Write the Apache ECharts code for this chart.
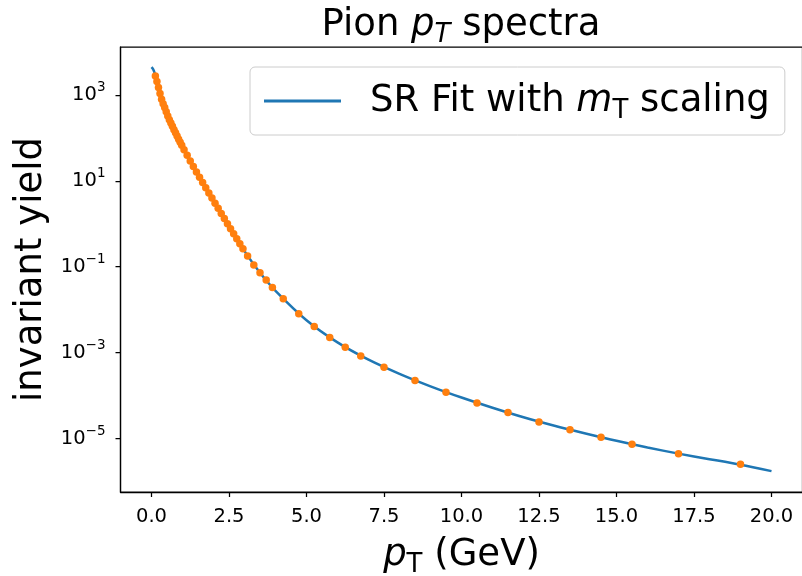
<!DOCTYPE html>
<html>
<head>
<meta charset="utf-8">
<script src="https://cdn.jsdelivr.net/npm/echarts@6/dist/echarts.min.js"></script>
<style>
html,body{margin:0;padding:0;background:#ffffff;}
#chart{width:802px;height:576px;}
</style>
</head>
<body>
<div id="chart"></div>
<script>
// ---- data ----
const pointPt = [0.125,0.175,0.225,0.275,0.325,0.375,0.425,0.475,0.525,0.575,0.625,0.675,0.725,0.775,0.825,0.875,0.925,0.975,
  1.05,1.15,1.25,1.35,1.45,1.55,1.65,1.75,1.85,1.95,2.05,2.15,2.25,2.35,2.45,2.55,2.65,2.75,2.85,2.95,
  3.1,3.3,3.5,3.7,3.9,4.25,4.75,5.25,5.75,6.25,6.75,7.5,8.5,9.5,10.5,11.5,12.5,13.5,14.5,15.5,17,19];
const pointYield = [2.75e3,2.04e3,1.48e3,1.07e3,7.94e2,6.24e2,5.06e2,4.04e2,3.20e2,2.63e2,2.20e2,1.85e2,1.55e2,1.31e2,1.10e2,92.5,78.7,67.1,
  52.8,39.2,29.0,21.5,16.0,12.1,9.14,6.90,5.21,3.95,3.00,2.28,1.73,1.32,1.00,0.766,0.586,0.449,0.344,0.263,
  0.177,0.109,0.0721,0.0488,0.0329,0.0179,0.00798,0.00406,0.00225,0.00134,8.38e-4,4.57e-4,2.24e-4,1.20e-4,6.73e-5,4.02e-5,2.43e-5,1.61e-5,1.07e-5,7.33e-6,4.45e-6,2.51e-6];

const fitPt = [0,0.05,0.1,0.15,0.2,0.3,0.4,0.5,0.6,0.8,1.0,1.25,1.5,1.75,2.0,2.5,3.0,3.5,4.0,5,6,7,8,9,10,11,12,13,14,15,16,17,18,19,20];
const fitYield = [4.43e3,3.98e3,3.24e3,2.37e3,1.74e3,9.12e2,5.65e2,3.61e2,2.40e2,1.20e2,61.9,29.0,13.9,6.90,3.44,0.877,0.230,0.0721,0.0275,
  0.00569,0.00173,6.84e-4,3.20e-4,1.64e-4,8.99e-5,5.20e-5,3.12e-5,1.98e-5,1.31e-5,8.83e-6,6.17e-6,4.45e-6,3.31e-6,2.45e-6,1.74e-6];

const xTickValues = [0,2.5,5,7.5,10,12.5,15,17.5,20];
const yTickValues = [1e-5,1e-3,1e-1,1e1,1e3];
const fitName = 'SR Fit with mT scaling';
const dataName = 'Pion data';

// ---- chart ----
const FONT = 'DejaVu Sans';
const BIG = 37;
const SUB = 26;
const chart = echarts.init(document.getElementById('chart'), null, {renderer: 'canvas'});

const bigRich = {
  t: {fontFamily: FONT, fontSize: BIG, fontWeight: 'normal', color: '#000', lineHeight: 46},
  i: {fontFamily: FONT, fontSize: BIG, fontWeight: 'normal', fontStyle: 'italic', color: '#000', lineHeight: 46},
  s: {fontFamily: FONT, fontSize: SUB, fontWeight: 'normal', color: '#000', lineHeight: 46, padding: [20, 0, 0, 0]},
  si: {fontFamily: FONT, fontSize: SUB, fontWeight: 'normal', fontStyle: 'italic', color: '#000', lineHeight: 46, padding: [20, 0, 0, 0]}
};

function supLabel(v) {
  const e = Math.round(Math.log10(v));
  const es = (e < 0 ? '\u2212' : '') + Math.abs(e);
  return '{b|10}{p|' + es + '}';
}

const option = {
  animation: false,
  backgroundColor: '#ffffff',
  title: {
    text: '{t|Pion }{i|p}{si|T}{t| spectra}',
    left: 456, top: -3, textAlign: 'center',
    textStyle: {fontWeight: 'normal', rich: bigRich}
  },
  grid: {
    left: 120.5, top: 47, width: 682, height: 445,
    containLabel: false, outerBoundsMode: 'none',
    show: true, borderColor: '#000', borderWidth: 1.25, backgroundColor: 'transparent'
  },
  legend: {
    data: [{name: fitName, icon: 'path://M0,0H77V3H0Z'}],
    left: 250, top: 67,
    padding: [11, 15, 11, 14],
    itemWidth: 77, itemHeight: 3,
    selectedMode: false,
    backgroundColor: 'rgba(255,255,255,0.8)',
    borderColor: '#cccccc', borderWidth: 1, borderRadius: 5,
    formatter: function () { return '{t|SR Fit with }{i|m}{s|T}{t| scaling}'; },
    textStyle: {padding: [0, 0, 0, 24], rich: bigRich}
  },
  xAxis: {
    type: 'value', min: -1, max: 21,
    axisLine: {show: true, onZero: false, lineStyle: {color: '#000', width: 1.25}},
    axisTick: {show: true, length: 5, customValues: xTickValues, lineStyle: {color: '#000', width: 1.25}},
    axisLabel: {
      customValues: xTickValues, margin: 15,
      color: '#000', fontFamily: FONT, fontSize: 19.5,
      formatter: function (v) { return Number(v).toFixed(1); }
    },
    splitLine: {show: false},
    name: '{i|p}{s|T}{t| (GeV)}',
    nameLocation: 'middle', nameGap: 32,
    nameTextStyle: {rich: bigRich}
  },
  yAxis: {
    type: 'log', logBase: 10, min: 5.69e-7, max: 1.30e4,
    axisLine: {show: true, onZero: false, lineStyle: {color: '#000', width: 1.25}},
    axisTick: {show: true, length: 5, customValues: yTickValues, lineStyle: {color: '#000', width: 1.25}},
    axisLabel: {
      customValues: yTickValues, margin: 15,
      formatter: supLabel,
      rich: {
        b: {fontFamily: FONT, fontSize: 19.5, color: '#000'},
        p: {fontFamily: FONT, fontSize: 13.5, color: '#000', padding: [0, 0, 14, 0]}
      }
    },
    splitLine: {show: false},
    minorTick: {show: false},
    name: 'invariant yield',
    nameLocation: 'middle', nameGap: 65, nameRotate: 90,
    nameTextStyle: {fontFamily: FONT, fontSize: BIG, color: '#000'}
  },
  series: [
    {
      name: fitName, type: 'line',
      data: fitPt.map(function (x, i) { return [x, fitYield[i]]; }),
      showSymbol: false, symbol: 'none', smooth: 0.3,
      lineStyle: {color: '#1f77b4', width: 2.5},
      itemStyle: {color: '#1f77b4'},
      z: 2
    },
    {
      name: dataName, type: 'scatter',
      data: pointPt.map(function (x, i) { return [x, pointYield[i]]; }),
      symbol: 'circle', symbolSize: 7.5,
      itemStyle: {color: '#ff7f0e', opacity: 1},
      z: 3
    }
  ]
};
chart.setOption(option);
</script>
</body>
</html>
